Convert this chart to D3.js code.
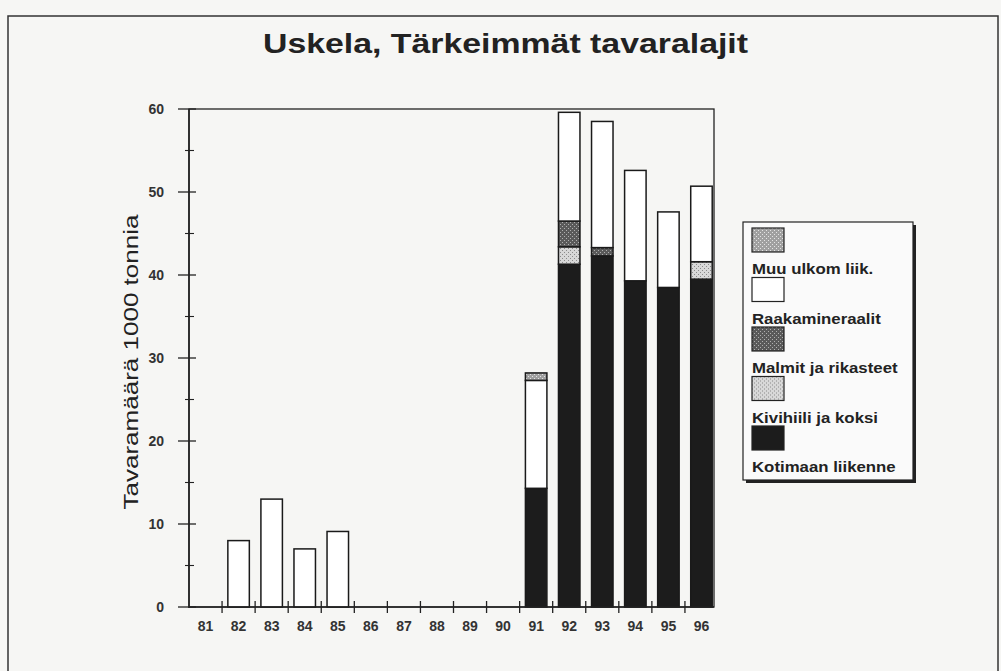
<!DOCTYPE html>
<html>
<head>
<meta charset="utf-8">
<script src="https://cdn.jsdelivr.net/npm/d3@7"></script>
<style>
    body { margin: 0; background: #f6f6f4; }
    svg { display: block; font-family: Arial, 'Liberation Sans', sans-serif; }
</style>
</head>
<body>
<div class="canvas"></div>
<script>
// data
const years = ['81', '82', '83', '84', '85', '86', '87', '88', '89', '90', '91', '92', '93', '94', '95', '96'];
const kotimaan    = [0, 0, 0, 0, 0, 0, 0, 0, 0, 0, 14.3, 41.3, 42.3, 39.3, 38.5, 39.5];
const kivihiili   = [0, 0, 0, 0, 0, 0, 0, 0, 0, 0, 0, 2.1, 0, 0, 0, 2.1];
const malmit      = [0, 0, 0, 0, 0, 0, 0, 0, 0, 0, 0, 3.1, 1.0, 0, 0, 0];
const raaka       = [0, 8, 13, 7, 9.1, 0, 0, 0, 0, 0, 13.0, 13.1, 15.2, 13.3, 9.1, 9.1];
const muuUlkom    = [0, 0, 0, 0, 0, 0, 0, 0, 0, 0, 0.9, 0, 0, 0, 0, 0];
const seriesNames = ['Kotimaan liikenne', 'Kivihiili ja koksi', 'Malmit ja rikasteet', 'Raakamineraalit', 'Muu ulkom liik.'];
const yTicks = [0, 10, 20, 30, 40, 50, 60];

const dimensions = { width: 1001, height: 671 };

const svg = d3.select('.canvas')
    .append('svg')
    .attr('width', dimensions.width)
    .attr('height', dimensions.height);

// stipple patterns
const defs = svg.append('defs');
const makePattern = (id, bg, dot, step) => {
    const p = defs.append('pattern')
        .attr('id', id)
        .attr('patternUnits', 'userSpaceOnUse')
        .attr('width', step * 2)
        .attr('height', step * 2);
    p.append('rect').attr('width', step * 2).attr('height', step * 2).attr('fill', bg);
    p.append('rect').attr('x', 0).attr('y', 0).attr('width', 1).attr('height', 1).attr('fill', dot);
    p.append('rect').attr('x', step).attr('y', step).attr('width', 1).attr('height', 1).attr('fill', dot);
};
makePattern('pat-muu', '#a0a0a0', '#e4e4e4', 2);
makePattern('pat-malmit', '#5a5a5a', '#b0b0b0', 2);
makePattern('pat-kivi', '#d8d8d8', '#8a8a8a', 2);

const fills = ['#1c1c1c', 'url(#pat-kivi)', 'url(#pat-malmit)', '#ffffff', 'url(#pat-muu)'];

// outer frame
svg.append('rect')
    .attr('x', 8).attr('y', 16)
    .attr('width', 990).attr('height', 700)
    .attr('fill', 'none')
    .attr('stroke', '#333')
    .attr('stroke-width', 1.5);

// title
svg.append('text')
    .attr('x', 263).attr('y', 53)
    .attr('font-size', 27)
    .attr('font-weight', 'bold')
    .attr('fill', '#222')
    .attr('textLength', 485)
    .attr('lengthAdjust', 'spacingAndGlyphs')
    .text('Uskela, Tärkeimmät tavaralajit');

// scales
const x = d3.scaleBand()
    .domain(years)
    .range([189, 718])
    .paddingInner(0.35)
    .paddingOuter(0.175);

const y = d3.scaleLinear()
    .domain([0, 60])
    .range([607, 109]);

const graph = svg.append('g');

// plot frame
graph.append('rect')
    .attr('x', 189).attr('y', y(60))
    .attr('width', 714 - 189).attr('height', y(0) - y(60))
    .attr('fill', 'none')
    .attr('stroke', '#222')
    .attr('stroke-width', 1.3);

// stacked bars
const table = years.map((yr, i) => ({
    year: yr,
    s0: kotimaan[i], s1: kivihiili[i], s2: malmit[i], s3: raaka[i], s4: muuUlkom[i]
}));
const stack = d3.stack().keys(['s0', 's1', 's2', 's3', 's4']);
const layers = stack(table);

layers.forEach((layer, k) => {
    graph.selectAll('.bar' + k)
        .data(layer.filter(d => d[1] - d[0] > 0))
        .enter()
        .append('rect')
        .attr('class', 'bar' + k)
        .attr('x', d => x(d.data.year))
        .attr('width', x.bandwidth())
        .attr('y', d => y(d[1]))
        .attr('height', d => y(d[0]) - y(d[1]))
        .attr('fill', fills[k])
        .attr('stroke', '#1a1a1a')
        .attr('stroke-width', 1.5);
});

// axis lines
graph.append('line')
    .attr('x1', 189).attr('x2', 714)
    .attr('y1', y(0)).attr('y2', y(0))
    .attr('stroke', '#222').attr('stroke-width', 1.3);
graph.append('line')
    .attr('x1', 189).attr('x2', 189)
    .attr('y1', y(0) + 1).attr('y2', y(60))
    .attr('stroke', '#222').attr('stroke-width', 1.6);

graph.selectAll('.xtick')
    .data(years.slice(1))
    .enter()
    .append('line')
    .attr('class', 'xtick')
    .attr('x1', d => x(d) - x.step() * 0.175)
    .attr('x2', d => x(d) - x.step() * 0.175)
    .attr('y1', y(0) - 6).attr('y2', y(0) + 6)
    .attr('stroke', '#222').attr('stroke-width', 1.3);

const xAxis = d3.axisBottom(x).tickSize(0).tickPadding(14);
const gx = graph.append('g')
    .attr('transform', `translate(0, ${y(0)})`)
    .call(xAxis);
gx.select('.domain').remove();
gx.selectAll('text')
    .attr('font-size', 14)
    .attr('font-weight', 'bold')
    .attr('fill', '#333')
    .attr('font-family', 'Arial, Liberation Sans, sans-serif');

// y axis
const yAxis = d3.axisLeft(y).tickValues(yTicks).tickSize(0).tickPadding(25);
const gy = graph.append('g')
    .attr('transform', 'translate(189, 0)')
    .call(yAxis);
gy.select('.domain').remove();
gy.selectAll('text')
    .attr('font-size', 14)
    .attr('font-weight', 'bold')
    .attr('fill', '#333')
    .attr('font-family', 'Arial, Liberation Sans, sans-serif');

graph.selectAll('.ymajor')
    .data(yTicks)
    .enter()
    .append('line')
    .attr('class', 'ymajor')
    .attr('x1', 178).attr('x2', 196)
    .attr('y1', d => y(d)).attr('y2', d => y(d))
    .attr('stroke', '#222').attr('stroke-width', 1.3);

graph.selectAll('.yminor')
    .data(d3.range(5, 60, 10))
    .enter()
    .append('line')
    .attr('class', 'yminor')
    .attr('x1', 185).attr('x2', 194)
    .attr('y1', d => y(d)).attr('y2', d => y(d))
    .attr('stroke', '#222').attr('stroke-width', 1.1);

svg.append('text')
    .attr('transform', 'translate(138, 362) rotate(-90)')
    .attr('text-anchor', 'middle')
    .attr('font-size', 21)
    .attr('fill', '#222')
    .attr('textLength', 295)
    .attr('lengthAdjust', 'spacingAndGlyphs')
    .text('Tavaramäärä 1000 tonnia');

// legend
const legend = svg.append('g');
legend.append('rect')
    .attr('x', 746).attr('y', 225)
    .attr('width', 170).attr('height', 258)
    .attr('fill', '#222');
legend.append('rect')
    .attr('x', 743).attr('y', 222)
    .attr('width', 170).attr('height', 258)
    .attr('fill', '#fafafa')
    .attr('stroke', '#222')
    .attr('stroke-width', 1.2);

const legendOrder = [4, 3, 2, 1, 0];
const items = legend.selectAll('.item')
    .data(legendOrder)
    .enter()
    .append('g')
    .attr('class', 'item')
    .attr('transform', (d, i) => `translate(752, ${228 + i * 49.5})`);

items.append('rect')
    .attr('width', 32).attr('height', 24)
    .attr('fill', d => fills[d])
    .attr('stroke', '#222')
    .attr('stroke-width', 1.2);

items.append('text')
    .attr('transform', 'translate(0, 46) scale(1.2, 1)')
    .attr('font-size', 14)
    .attr('font-weight', 'bold')
    .attr('fill', '#222')
    .text(d => seriesNames[d]);
</script>
</body>
</html>
